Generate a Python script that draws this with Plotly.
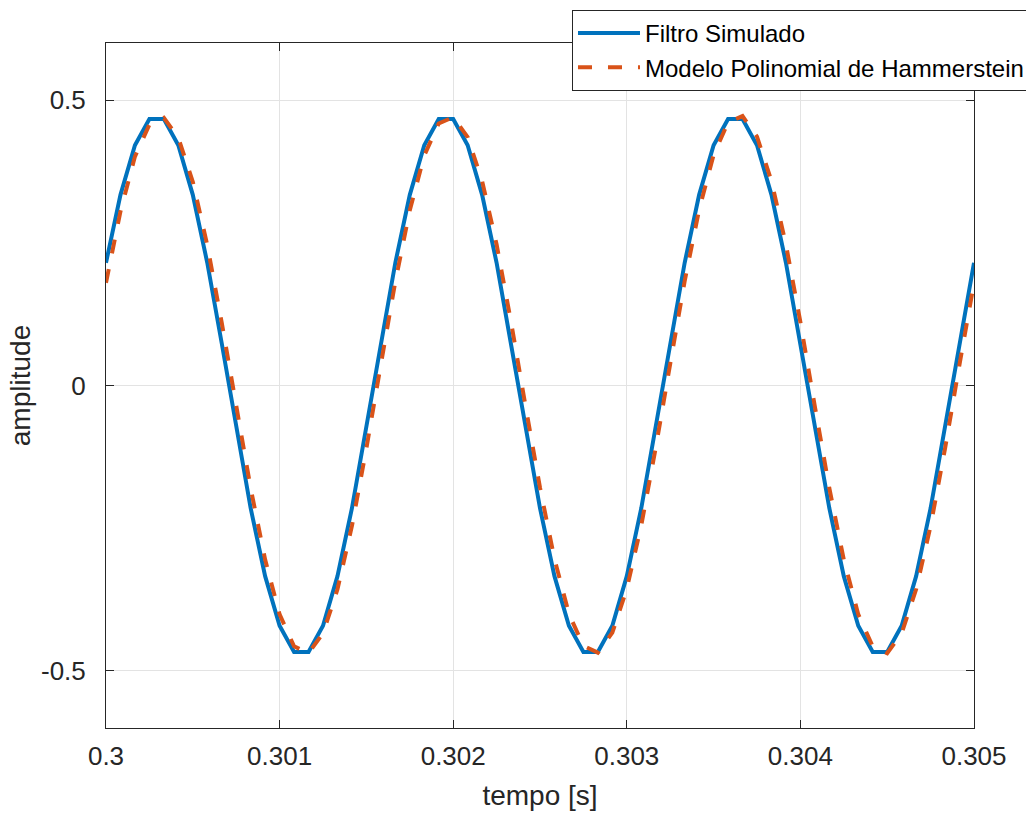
import plotly.graph_objects as go

# sample times (12 kHz sampling, 0.3 s .. 0.305 s)
t0 = 0.3
dt = 1 / 12000
tempo = [t0 + i * dt for i in range(61)]

# Filtro Simulado
filtro = [
    0.215, 0.334, 0.421, 0.467, 0.467, 0.421, 0.334, 0.215, 0.074, -0.074,
    -0.215, -0.334, -0.421, -0.467, -0.467, -0.421, -0.334, -0.215, -0.074, 0.074,
    0.215, 0.334, 0.421, 0.467, 0.467, 0.421, 0.334, 0.215, 0.074, -0.074,
    -0.215, -0.334, -0.421, -0.467, -0.467, -0.421, -0.334, -0.215, -0.074, 0.074,
    0.215, 0.334, 0.421, 0.467, 0.467, 0.421, 0.334, 0.215, 0.074, -0.074,
    -0.215, -0.334, -0.421, -0.467, -0.467, -0.421, -0.334, -0.215, -0.074, 0.074,
    0.215,
]

# Modelo Polinomial de Hammerstein
hammerstein = [
    0.180, 0.305, 0.401, 0.457, 0.469, 0.434, 0.357, 0.246, 0.110, -0.037,
    -0.180, -0.305, -0.401, -0.457, -0.469, -0.434, -0.357, -0.246, -0.110, 0.037,
    0.182, 0.307, 0.403, 0.459, 0.470, 0.435, 0.358, 0.247, 0.111, -0.036,
    -0.179, -0.304, -0.400, -0.456, -0.468, -0.433, -0.356, -0.245, -0.109, 0.038,
    0.183, 0.308, 0.404, 0.461, 0.472, 0.436, 0.358, 0.247, 0.111, -0.037,
    -0.180, -0.305, -0.401, -0.457, -0.469, -0.434, -0.357, -0.246, -0.110, 0.037,
    0.180,
]

x_ticks = [0.3, 0.301, 0.302, 0.303, 0.304, 0.305]
x_labels = ['0.3', '0.301', '0.302', '0.303', '0.304', '0.305']
y_ticks = [-0.5, 0, 0.5]
y_labels = ['-0.5', '0', '0.5']

fig = go.Figure()
fig.add_trace(go.Scatter(x=tempo, y=filtro, mode='lines', name='Filtro Simulado',
                         line=dict(color='#0072BD', width=4)))
fig.add_trace(go.Scatter(x=tempo, y=hammerstein, mode='lines', name='Modelo Polinomial de Hammerstein',
                         line=dict(color='#D95319', width=4, dash='14px,16px')))

axis_style = dict(showline=True, linecolor='#262626', linewidth=1, mirror='ticks',
                  ticks='inside', ticklen=8, tickcolor='#262626',
                  showgrid=True, gridcolor='#e3e3e3', gridwidth=1, zeroline=False,
                  tickfont=dict(size=26, color='#262626'))

fig.update_xaxes(range=[0.3, 0.305], tickvals=x_ticks, ticktext=x_labels,
                 ticklabelstandoff=5,
                 title=dict(text='tempo [s]', font=dict(size=28, color='#262626'), standoff=15),
                 **axis_style)
fig.update_yaxes(range=[-0.6, 0.6], tickvals=y_ticks, ticktext=y_labels,
                 ticklabelstandoff=14,
                 title=dict(text='amplitude', font=dict(size=28, color='#262626'), standoff=2),
                 **axis_style)

fig.update_layout(
    width=1026, height=814,
    margin=dict(l=106, r=52, t=43, b=86, autoexpand=False),
    paper_bgcolor='white', plot_bgcolor='white',
    font=dict(family='Liberation Sans, Arial, sans-serif'),
    showlegend=True,
    legend=dict(xref='container', yref='container', x=0.5575, y=0.9877,
                xanchor='left', yanchor='top',
                bgcolor='white', bordercolor='#262626', borderwidth=1,
                font=dict(size=24, color='black'), tracegroupgap=0,
                itemwidth=62),
)

fig.write_html("out.html", config={'displayModeBar': False},
               post_script="document.body.style.margin='0';")
